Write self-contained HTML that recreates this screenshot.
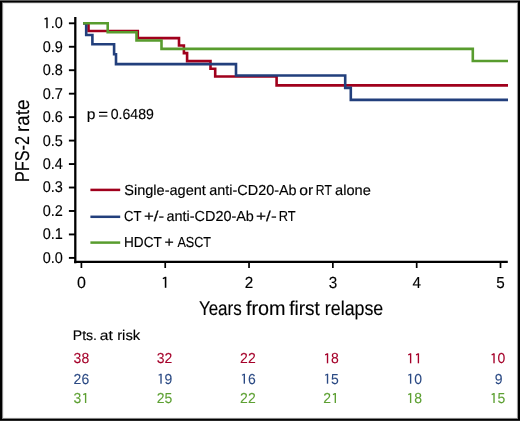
<!DOCTYPE html>
<html><head><meta charset="utf-8"><style>
html,body{margin:0;padding:0;background:#fff;}
body{width:520px;height:421px;overflow:hidden;position:relative;}
.b{position:absolute;}
svg{position:absolute;left:0;top:0;filter:blur(0.3px);}
text{font-family:"Liberation Sans", sans-serif;stroke-width:0.15px;text-rendering:geometricPrecision;}
</style></head><body>
<svg width="520" height="421" viewBox="0 0 520 421">
<line x1="75.3" y1="17" x2="75.3" y2="263.3" stroke="#000" stroke-width="2.3"/>
<line x1="74.15" y1="261.95" x2="507.8" y2="261.95" stroke="#000" stroke-width="2.3"/>
<line x1="68.9" y1="23.30" x2="75" y2="23.30" stroke="#000" stroke-width="1.9"/>
<text transform="translate(42.61,28.20) scale(0.9350,1)" font-size="15.5" fill="#000" stroke="#000"> .0</text>
<rect x="46.26" y="17.58" width="1.42" height="10.62" fill="#000"/>
<line x1="46.97" y1="18.13" x2="44.53" y2="19.21" stroke="#000" stroke-width="1.32"/>
<line x1="68.9" y1="46.76" x2="75" y2="46.76" stroke="#000" stroke-width="1.9"/>
<text transform="translate(42.71,51.66) scale(0.9350,1)" font-size="15.5" fill="#000" stroke="#000">0.9</text>
<line x1="68.9" y1="70.22" x2="75" y2="70.22" stroke="#000" stroke-width="1.9"/>
<text transform="translate(42.71,75.12) scale(0.9350,1)" font-size="15.5" fill="#000" stroke="#000">0.8</text>
<line x1="68.9" y1="93.68" x2="75" y2="93.68" stroke="#000" stroke-width="1.9"/>
<text transform="translate(42.71,98.58) scale(0.9350,1)" font-size="15.5" fill="#000" stroke="#000">0.7</text>
<line x1="68.9" y1="117.14" x2="75" y2="117.14" stroke="#000" stroke-width="1.9"/>
<text transform="translate(42.71,122.04) scale(0.9350,1)" font-size="15.5" fill="#000" stroke="#000">0.6</text>
<line x1="68.9" y1="140.60" x2="75" y2="140.60" stroke="#000" stroke-width="1.9"/>
<text transform="translate(42.71,145.50) scale(0.9350,1)" font-size="15.5" fill="#000" stroke="#000">0.5</text>
<line x1="68.9" y1="164.06" x2="75" y2="164.06" stroke="#000" stroke-width="1.9"/>
<text transform="translate(42.71,168.96) scale(0.9350,1)" font-size="15.5" fill="#000" stroke="#000">0.4</text>
<line x1="68.9" y1="187.52" x2="75" y2="187.52" stroke="#000" stroke-width="1.9"/>
<text transform="translate(42.71,192.42) scale(0.9350,1)" font-size="15.5" fill="#000" stroke="#000">0.3</text>
<line x1="68.9" y1="210.98" x2="75" y2="210.98" stroke="#000" stroke-width="1.9"/>
<text transform="translate(42.71,215.88) scale(0.9350,1)" font-size="15.5" fill="#000" stroke="#000">0.2</text>
<line x1="68.9" y1="234.44" x2="75" y2="234.44" stroke="#000" stroke-width="1.9"/>
<text transform="translate(42.71,239.34) scale(0.9350,1)" font-size="15.5" fill="#000" stroke="#000">0.1</text>
<line x1="68.9" y1="257.90" x2="75" y2="257.90" stroke="#000" stroke-width="1.9"/>
<text transform="translate(42.71,262.80) scale(0.9350,1)" font-size="15.5" fill="#000" stroke="#000">0.0</text>
<line x1="81.40" y1="262" x2="81.40" y2="268" stroke="#000" stroke-width="1.7"/>
<text transform="translate(81.40,287.80) scale(1.0000,1)" font-size="16" fill="#000" stroke="#000" text-anchor="middle">0</text>
<line x1="165.22" y1="262" x2="165.22" y2="268" stroke="#000" stroke-width="1.7"/>
<rect x="164.79" y="276.84" width="1.57" height="10.96" fill="#000"/>
<line x1="165.58" y1="277.40" x2="162.85" y2="278.52" stroke="#000" stroke-width="1.36"/>
<line x1="249.04" y1="262" x2="249.04" y2="268" stroke="#000" stroke-width="1.7"/>
<text transform="translate(249.04,287.80) scale(0.9500,1)" font-size="16" fill="#000" stroke="#000" text-anchor="middle">2</text>
<line x1="332.86" y1="262" x2="332.86" y2="268" stroke="#000" stroke-width="1.7"/>
<text transform="translate(332.86,287.80) scale(0.9500,1)" font-size="16" fill="#000" stroke="#000" text-anchor="middle">3</text>
<line x1="416.68" y1="262" x2="416.68" y2="268" stroke="#000" stroke-width="1.7"/>
<text transform="translate(416.68,287.80) scale(0.9500,1)" font-size="16" fill="#000" stroke="#000" text-anchor="middle">4</text>
<line x1="500.50" y1="262" x2="500.50" y2="268" stroke="#000" stroke-width="1.7"/>
<text transform="translate(500.50,287.80) scale(0.9500,1)" font-size="16" fill="#000" stroke="#000" text-anchor="middle">5</text>
<path d="M83.1,23.2 L88.5,23.2 L88.5,31.0 L137.8,31.0 L137.8,38.1 L179.0,38.1 L179.0,45.5 L183.9,45.5 L183.9,53.1 L187.1,53.1 L187.1,61.1 L210.5,61.1 L210.5,68.7 L215.2,68.7 L215.2,76.5 L276.6,76.5 L276.6,85.4 L508,85.4" fill="none" stroke="#a0001c" stroke-width="2.6" stroke-linejoin="miter" stroke-linecap="butt"/>
<path d="M83.1,23.2 L86.2,23.2 L86.2,35.0 L92.4,35.0 L92.4,44.2 L114.1,44.2 L114.1,54.2 L116.0,54.2 L116.0,64.1 L236.0,64.1 L236.0,75.5 L345.2,75.5 L345.2,87.9 L350.8,87.9 L350.8,99.9 L508,99.9" fill="none" stroke="#223f7c" stroke-width="2.6" stroke-linejoin="miter" stroke-linecap="butt"/>
<path d="M83.1,23.2 L107.7,23.2 L107.7,32.2 L136.5,32.2 L136.5,40.5 L161.5,40.5 L161.5,48.85 L472.8,48.85 L472.8,61.0 L508,61.0" fill="none" stroke="#589c2e" stroke-width="2.6" stroke-linejoin="miter" stroke-linecap="butt"/>
<text transform="translate(86.72,118.80) scale(1.0769,1)" font-size="14.5" fill="#000" stroke="#000">p</text>
<text transform="translate(98.13,118.80) scale(1.1571,1)" font-size="14.5" fill="#000" stroke="#000">=</text>
<text transform="translate(110.70,118.80) scale(0.9721,1)" font-size="14.5" fill="#000" stroke="#000">0.6489</text>
<line x1="90.4" y1="189.9" x2="120.2" y2="189.9" stroke="#a0001c" stroke-width="2.5"/>
<text transform="translate(124.25,195.40) scale(1.0021,1)" font-size="14.5" fill="#000" stroke="#000">Single-agent</text>
<text transform="translate(209.28,195.40) scale(0.9939,1)" font-size="14.5" fill="#000" stroke="#000">anti-CD20-Ab</text>
<text transform="translate(299.33,195.40) scale(1.0833,1)" font-size="14.5" fill="#000" stroke="#000">or</text>
<text transform="translate(315.85,195.40) scale(0.8400,1)" font-size="14.5" fill="#000" stroke="#000">RT</text>
<text transform="translate(335.08,195.40) scale(1.0070,1)" font-size="14.5" fill="#000" stroke="#000">alone</text>
<line x1="90.4" y1="216.8" x2="120.2" y2="216.8" stroke="#223f7c" stroke-width="2.5"/>
<text transform="translate(124.12,221.10) scale(0.9041,1)" font-size="14.5" fill="#000" stroke="#000">CT</text>
<text transform="translate(143.93,221.10) scale(1.1657,1)" font-size="14.5" fill="#000" stroke="#000">+/-</text>
<text transform="translate(166.48,221.10) scale(0.9950,1)" font-size="14.5" fill="#000" stroke="#000">anti-CD20-Ab</text>
<text transform="translate(256.01,221.10) scale(1.1909,1)" font-size="14.5" fill="#000" stroke="#000">+/-</text>
<text transform="translate(278.69,221.10) scale(0.8857,1)" font-size="14.5" fill="#000" stroke="#000">RT</text>
<line x1="90.4" y1="242.6" x2="120.2" y2="242.6" stroke="#589c2e" stroke-width="2.5"/>
<text transform="translate(124.03,246.70) scale(0.9371,1)" font-size="14.5" fill="#000" stroke="#000">HDCT</text>
<text transform="translate(164.58,246.70) scale(1.1000,1)" font-size="14.5" fill="#000" stroke="#000">+</text>
<text transform="translate(177.40,246.70) scale(0.8702,1)" font-size="14.5" fill="#000" stroke="#000">ASCT</text>
<text transform="translate(198.88,314.80) scale(0.8489,1)" font-size="20" fill="#000" stroke="#000">Years</text>
<text transform="translate(245.95,314.80) scale(0.9904,1)" font-size="20" fill="#000" stroke="#000">from</text>
<text transform="translate(289.16,314.80) scale(0.9507,1)" font-size="20" fill="#000" stroke="#000">first</text>
<text transform="translate(324.87,314.80) scale(0.8900,1)" font-size="20" fill="#000" stroke="#000">relapse</text>
<text transform="translate(28.70,181.91) rotate(-90) scale(0.8093,1)" font-size="20" fill="#000" stroke="#000">PFS-2</text>
<text transform="translate(28.70,132.10) rotate(-90) scale(0.9445,1)" font-size="20" fill="#000" stroke="#000">rate</text>
<text transform="translate(72.72,340.10) scale(1.0087,1)" font-size="14" fill="#000" stroke="#000">Pts.</text>
<text transform="translate(99.71,340.10) scale(1.1182,1)" font-size="14" fill="#000" stroke="#000">at</text>
<text transform="translate(117.17,340.10) scale(1.0565,1)" font-size="14" fill="#000" stroke="#000">risk</text>
<text transform="translate(81.40,363.3) scale(0.965,1)" text-anchor="middle" font-size="14.5" fill="#a5002a" stroke="#a5002a" style="stroke-width:0.07px">38</text>
<text transform="translate(164.60,363.3) scale(0.965,1)" text-anchor="middle" font-size="14.5" fill="#a5002a" stroke="#a5002a" style="stroke-width:0.07px">32</text>
<text transform="translate(247.90,363.3) scale(0.965,1)" text-anchor="middle" font-size="14.5" fill="#a5002a" stroke="#a5002a" style="stroke-width:0.07px">22</text>
<text transform="translate(331.10,363.3) scale(0.965,1)" text-anchor="middle" font-size="14.5" fill="#a5002a" stroke="#a5002a" style="stroke-width:0.07px"> 8</text>
<rect x="326.83" y="353.37" width="1.37" height="9.93" fill="#a5002a"/>
<line x1="327.52" y1="353.88" x2="325.15" y2="354.89" stroke="#a5002a" stroke-width="1.23"/>
<text transform="translate(414.20,363.3) scale(0.965,1)" text-anchor="middle" font-size="14.5" fill="#a5002a" stroke="#a5002a" style="stroke-width:0.07px">  </text>
<rect x="409.93" y="353.37" width="1.37" height="9.93" fill="#a5002a"/>
<line x1="410.62" y1="353.88" x2="408.25" y2="354.89" stroke="#a5002a" stroke-width="1.23"/>
<rect x="417.72" y="353.37" width="1.37" height="9.93" fill="#a5002a"/>
<line x1="418.40" y1="353.88" x2="416.04" y2="354.89" stroke="#a5002a" stroke-width="1.23"/>
<text transform="translate(497.60,363.3) scale(0.965,1)" text-anchor="middle" font-size="14.5" fill="#a5002a" stroke="#a5002a" style="stroke-width:0.07px"> 0</text>
<rect x="493.33" y="353.37" width="1.37" height="9.93" fill="#a5002a"/>
<line x1="494.02" y1="353.88" x2="491.65" y2="354.89" stroke="#a5002a" stroke-width="1.23"/>
<text transform="translate(81.40,383.7) scale(0.965,1)" text-anchor="middle" font-size="14.5" fill="#2a4983" stroke="#2a4983" style="stroke-width:0.07px">26</text>
<text transform="translate(164.60,383.7) scale(0.965,1)" text-anchor="middle" font-size="14.5" fill="#2a4983" stroke="#2a4983" style="stroke-width:0.07px"> 9</text>
<rect x="160.33" y="373.77" width="1.37" height="9.93" fill="#2a4983"/>
<line x1="161.02" y1="374.27" x2="158.65" y2="375.29" stroke="#2a4983" stroke-width="1.23"/>
<text transform="translate(247.90,383.7) scale(0.965,1)" text-anchor="middle" font-size="14.5" fill="#2a4983" stroke="#2a4983" style="stroke-width:0.07px"> 6</text>
<rect x="243.63" y="373.77" width="1.37" height="9.93" fill="#2a4983"/>
<line x1="244.32" y1="374.27" x2="241.95" y2="375.29" stroke="#2a4983" stroke-width="1.23"/>
<text transform="translate(331.10,383.7) scale(0.965,1)" text-anchor="middle" font-size="14.5" fill="#2a4983" stroke="#2a4983" style="stroke-width:0.07px"> 5</text>
<rect x="326.83" y="373.77" width="1.37" height="9.93" fill="#2a4983"/>
<line x1="327.52" y1="374.27" x2="325.15" y2="375.29" stroke="#2a4983" stroke-width="1.23"/>
<text transform="translate(414.20,383.7) scale(0.965,1)" text-anchor="middle" font-size="14.5" fill="#2a4983" stroke="#2a4983" style="stroke-width:0.07px"> 0</text>
<rect x="409.93" y="373.77" width="1.37" height="9.93" fill="#2a4983"/>
<line x1="410.62" y1="374.27" x2="408.25" y2="375.29" stroke="#2a4983" stroke-width="1.23"/>
<text transform="translate(498.60,383.7) scale(0.965,1)" text-anchor="middle" font-size="14.5" fill="#2a4983" stroke="#2a4983" style="stroke-width:0.07px">9</text>
<text transform="translate(81.40,403.0) scale(0.965,1)" text-anchor="middle" font-size="14.5" fill="#5da033" stroke="#5da033" style="stroke-width:0.07px">3 </text>
<rect x="84.92" y="393.07" width="1.37" height="9.93" fill="#5da033"/>
<line x1="85.60" y1="393.57" x2="83.24" y2="394.59" stroke="#5da033" stroke-width="1.23"/>
<text transform="translate(164.60,403.0) scale(0.965,1)" text-anchor="middle" font-size="14.5" fill="#5da033" stroke="#5da033" style="stroke-width:0.07px">25</text>
<text transform="translate(247.90,403.0) scale(0.965,1)" text-anchor="middle" font-size="14.5" fill="#5da033" stroke="#5da033" style="stroke-width:0.07px">22</text>
<text transform="translate(331.10,403.0) scale(0.965,1)" text-anchor="middle" font-size="14.5" fill="#5da033" stroke="#5da033" style="stroke-width:0.07px">2 </text>
<rect x="334.62" y="393.07" width="1.37" height="9.93" fill="#5da033"/>
<line x1="335.30" y1="393.57" x2="332.94" y2="394.59" stroke="#5da033" stroke-width="1.23"/>
<text transform="translate(414.20,403.0) scale(0.965,1)" text-anchor="middle" font-size="14.5" fill="#5da033" stroke="#5da033" style="stroke-width:0.07px"> 8</text>
<rect x="409.93" y="393.07" width="1.37" height="9.93" fill="#5da033"/>
<line x1="410.62" y1="393.57" x2="408.25" y2="394.59" stroke="#5da033" stroke-width="1.23"/>
<text transform="translate(497.60,403.0) scale(0.965,1)" text-anchor="middle" font-size="14.5" fill="#5da033" stroke="#5da033" style="stroke-width:0.07px"> 5</text>
<rect x="493.33" y="393.07" width="1.37" height="9.93" fill="#5da033"/>
<line x1="494.02" y1="393.57" x2="491.65" y2="394.59" stroke="#5da033" stroke-width="1.23"/>
</svg>
<div class="b" style="left:0px;top:3px;width:520px;height:1px;background:#e9e9e9"></div><div class="b" style="left:0px;top:417px;width:520px;height:1px;background:#f5f5f5"></div><div class="b" style="left:3px;top:0px;width:1px;height:421px;background:#f0f0f0"></div><div class="b" style="left:516px;top:0px;width:1px;height:421px;background:#f6f6f6"></div><div class="b" style="left:2px;top:0px;width:1px;height:421px;background:#888"></div><div class="b" style="left:517px;top:0px;width:1px;height:421px;background:#999"></div><div class="b" style="left:0px;top:2px;width:520px;height:1px;background:#555"></div><div class="b" style="left:0px;top:418px;width:520px;height:1px;background:#808080"></div><div class="b" style="left:0px;top:0px;width:2px;height:421px;background:#000"></div><div class="b" style="left:518px;top:0px;width:2px;height:421px;background:#000"></div><div class="b" style="left:0px;top:1px;width:520px;height:1px;background:#000"></div><div class="b" style="left:0px;top:419px;width:520px;height:1px;background:#000"></div><div class="b" style="left:0px;top:0px;width:520px;height:1px;background:#5a5a5a"></div><div class="b" style="left:0px;top:420px;width:520px;height:1px;background:#262626"></div>
</body></html>
